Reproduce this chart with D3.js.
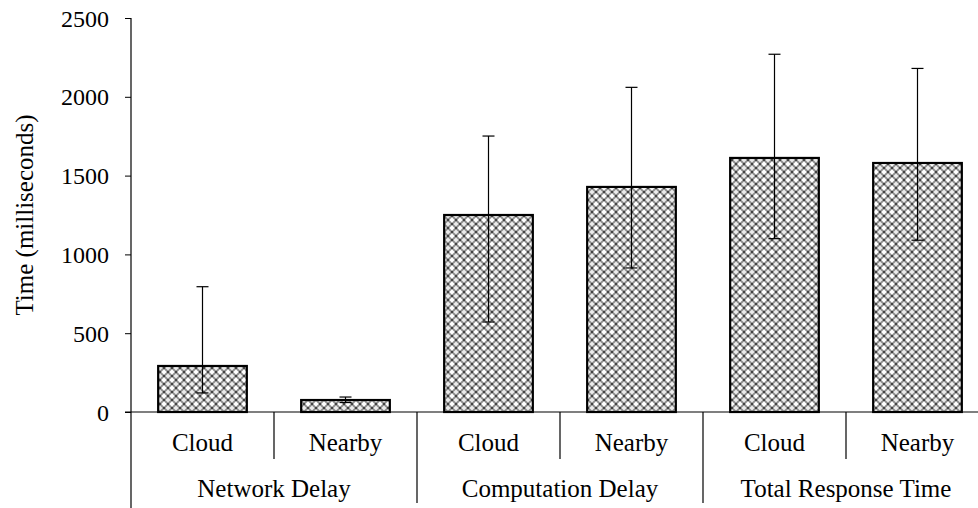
<!DOCTYPE html>
<html>
<head>
<meta charset="utf-8">
<script src="https://cdn.jsdelivr.net/npm/d3@7"></script>
<style>
  html, body { margin: 0; padding: 0; background: #fff; }
  svg { display: block; }
</style>
</head>
<body>
<svg id="chart" width="978" height="508"></svg>
<script>
// Delay measurements (ms): mean with lower / upper error-bar ends
const groups = ["Network Delay", "Computation Delay", "Total Response Time"];
const subLabels = ["Cloud", "Nearby"];
const meanValues = [292, 76, 1250, 1428, 1612, 1580];
const lowValues  = [121, 60, 571, 914, 1100, 1090];
const highValues = [795, 95, 1751, 2060, 2270, 2180];
const yTicks = [0, 500, 1000, 1500, 2000, 2500];

const FONT = "'Times New Roman', 'Liberation Serif', Tinos, serif";

const rows = meanValues.map((v, i) => ({
  key: i,
  group: groups[Math.floor(i / 2)],
  label: subLabels[i % 2],
  mean: v, low: lowValues[i], high: highValues[i]
}));

const svg = d3.select("#chart");
const margin = { left: 131, top: 18, bottom: 412 };
const step = 143;

const x = d3.scaleBand()
  .domain(rows.map(d => d.key))
  .range([margin.left, margin.left + step * rows.length])
  .paddingInner(0.38)
  .paddingOuter(0.19);

const y = d3.scaleLinear().domain([0, 2500]).range([margin.bottom, margin.top]);

// textured fill used by every bar
const defs = svg.append("defs");
const pat = defs.append("pattern")
  .attr("id", "grid").attr("patternUnits", "userSpaceOnUse")
  .attr("width", 8).attr("height", 8);
pat.append("rect").attr("width", 8).attr("height", 8).attr("fill", "#8e8e8e");
// light diamonds
pat.append("path").attr("d", "M4,1.3L6.7,4L4,6.7L1.3,4Z").attr("fill", "#fff");
pat.append("path").attr("d", "M0,-2.6L2.6,0L0,2.6L-2.6,0Z M8,-2.6L10.6,0L8,2.6L5.4,0Z M0,5.4L2.6,8L0,10.6L-2.6,8Z M8,5.4L10.6,8L8,10.6L5.4,8Z").attr("fill", "#ececec");
// dark dots between them
[[4, 0], [0, 4], [8, 4], [4, 8]].forEach(([px, py]) => {
  pat.append("rect").attr("x", px - 0.8).attr("y", py - 0.8)
    .attr("width", 1.6).attr("height", 1.6).attr("fill", "#1a1a1a");
});

// y axis
const yAxis = d3.axisLeft(y).tickValues(yTicks).tickFormat(d3.format("d"))
  .tickSize(6).tickPadding(16).tickSizeOuter(0);
const gy = svg.append("g").attr("transform", `translate(${margin.left},0)`).call(yAxis);
gy.attr("font-family", FONT);
gy.select(".domain").remove();
gy.selectAll(".tick line").attr("stroke", "#000");
gy.selectAll(".tick text").attr("font-family", FONT).attr("font-size", 24).attr("fill", "#000").attr("dy", "0.34em");

// bars
svg.append("g").selectAll("rect").data(rows).join("rect")
  .attr("x", d => x(d.key))
  .attr("y", d => y(d.mean))
  .attr("width", x.bandwidth())
  .attr("height", d => y(0) - y(d.mean))
  .attr("fill", "url(#grid)")
  .attr("stroke", "#000").attr("stroke-width", 2.2);

// error bars
const eb = svg.append("g").attr("stroke", "#000").attr("stroke-width", 1.2);
rows.forEach(d => {
  const cx = x(d.key) + x.bandwidth() / 2;
  eb.append("line").attr("x1", cx).attr("x2", cx).attr("y1", y(d.high)).attr("y2", y(d.low));
  eb.append("line").attr("x1", cx - 6).attr("x2", cx + 6).attr("y1", y(d.high)).attr("y2", y(d.high));
  eb.append("line").attr("x1", cx - 6).attr("x2", cx + 6).attr("y1", y(d.low)).attr("y2", y(d.low));
});

// axis lines and category separators
const ax = svg.append("g").attr("stroke", "#000").attr("stroke-width", 1.2);
ax.append("line").attr("x1", margin.left).attr("x2", margin.left).attr("y1", y(2500)).attr("y2", 508);
ax.append("line").attr("x1", margin.left - 6).attr("x2", 978).attr("y1", y(0)).attr("y2", y(0));
const x0 = x.range()[0];
rows.forEach((d, i) => {
  if (i === 0) return;
  const sx = x0 + step * i;
  ax.append("line").attr("x1", sx).attr("x2", sx).attr("y1", y(0))
    .attr("y2", i % 2 === 0 ? 503 : 459);
});

// sub-category labels
svg.append("g").selectAll("text").data(rows).join("text")
  .attr("x", d => x(d.key) + x.bandwidth() / 2)
  .attr("y", 451)
  .attr("text-anchor", "middle")
  .attr("font-family", FONT).attr("font-size", 25)
  .text(d => d.label);

// group labels
svg.append("g").selectAll("text").data(groups).join("text")
  .attr("x", (g, i) => x0 + step * (2 * i + 1))
  .attr("y", 497)
  .attr("text-anchor", "middle")
  .attr("font-family", FONT).attr("font-size", 25)
  .text(g => g);

// y axis title
svg.append("text")
  .attr("transform", `translate(33,${(y(0) + y(2500)) / 2}) rotate(-90)`)
  .attr("text-anchor", "middle")
  .attr("font-family", FONT).attr("font-size", 25)
  .text("Time (milliseconds)");
</script>
</body>
</html>
